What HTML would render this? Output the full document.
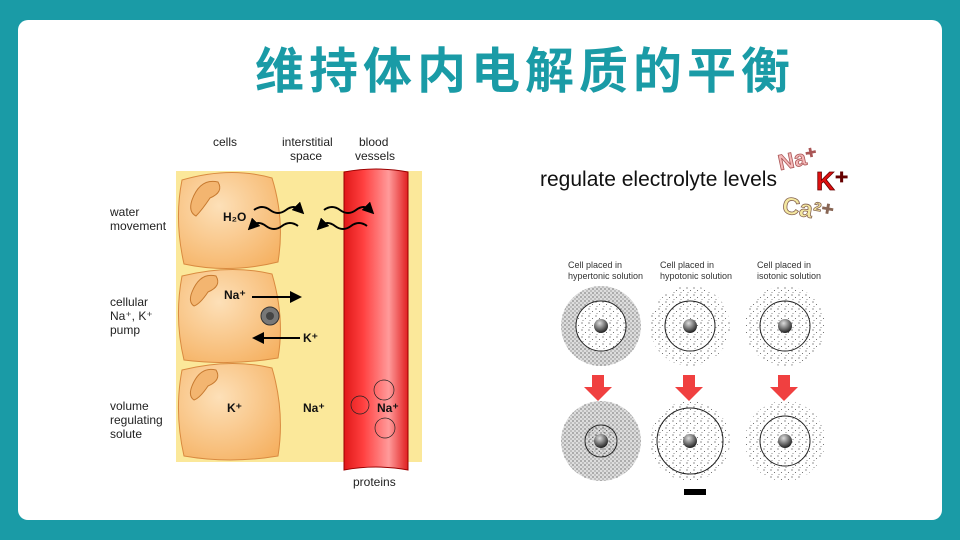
<!DOCTYPE html>
<html><head><meta charset="utf-8"><style>
body{margin:0;width:960px;height:540px;background:#1a9ba6;overflow:hidden;font-family:"Liberation Sans",sans-serif}
.panel{position:absolute;left:18px;top:20px;width:924px;height:500px;background:#fff;border-radius:10px}
</style></head><body>
<div class="panel"></div>
<div style="position:absolute;left:200px;top:42px;width:650px;text-align:center;font-size:49px;color:#1a9ba6;font-family:'Liberation Sans','Noto Sans CJK SC',sans-serif;font-weight:bold;letter-spacing:5px;line-height:60px">维持体内电解质的平衡</div>
<svg width="960" height="540" style="position:absolute;left:0;top:0" font-family="Liberation Sans, sans-serif">
<defs>
<linearGradient id="red" x1="0" x2="1"><stop offset="0" stop-color="#e01818"/><stop offset="0.3" stop-color="#ff4040"/><stop offset="0.7" stop-color="#ff9a9a"/><stop offset="1" stop-color="#e02020"/></linearGradient>
<radialGradient id="cell" cx="0.4" cy="0.35" r="0.8"><stop offset="0" stop-color="#fde0b8"/><stop offset="1" stop-color="#f5b060"/></radialGradient>
<radialGradient id="nuc" cx="0.4" cy="0.3" r="0.7"><stop offset="0" stop-color="#ddd"/><stop offset="1" stop-color="#222"/></radialGradient>
<pattern id="dots" width="7" height="7" patternUnits="userSpaceOnUse"><circle cx="1" cy="1" r="0.6" fill="#444"/><circle cx="4.5" cy="3.5" r="0.55" fill="#555"/><circle cx="2" cy="5.5" r="0.5" fill="#666"/></pattern>
<pattern id="dense" width="4" height="4" patternUnits="userSpaceOnUse"><rect width="4" height="4" fill="#ddd"/><circle cx="1" cy="1" r="0.6" fill="#333"/><circle cx="3" cy="3" r="0.55" fill="#444"/></pattern>
<marker id="ah" markerWidth="6" markerHeight="6" refX="3" refY="3" orient="auto"><path d="M0,0L6,3L0,6z" fill="#000"/></marker>
</defs>
<rect x="176" y="171" width="246" height="291" fill="#fbe89a"/>
<path d="M344,172 Q376,166 408,172 L408,470 Q376,464 344,470Z" fill="url(#red)" stroke="#900" stroke-width="1"/>
<g stroke="#d98a40" fill="url(#cell)">
<path d="M182,180 Q230,166 272,178 Q285,220 278,262 Q230,274 184,264 Q174,220 182,180Z"/>
<path d="M182,276 Q230,264 272,274 Q285,318 278,358 Q230,366 184,360 Q174,318 182,276Z"/>
<path d="M182,370 Q230,358 272,368 Q285,412 278,456 Q230,464 184,456 Q174,412 182,370Z"/>
</g>
<g fill="#f3b570" stroke="#c77a30">
<path d="M192,200 Q200,178 218,182 Q224,192 210,198 Q202,210 196,216 Q188,212 192,200Z"/>
<path d="M192,292 Q200,272 216,276 Q222,286 208,292 Q200,304 194,306 Q188,302 192,292Z"/>
<path d="M192,386 Q200,366 216,370 Q222,380 208,386 Q200,398 194,400 Q188,396 192,386Z"/>
</g>
<g stroke="#000" stroke-width="2" fill="none" marker-end="url(#ah)">
<path d="M254,210 q8,-6 16,0 t16,0 t14,0"/><path d="M324,210 q8,-6 16,0 t16,0 t14,0"/>
<path d="M298,226 q-8,-6 -16,0 t-16,0 t-14,0"/><path d="M367,226 q-8,-6 -16,0 t-16,0 t-14,0"/>
<path d="M252,297 H296"/><path d="M300,338 H258"/>
</g>
<circle cx="270" cy="316" r="9" fill="#777" stroke="#333"/><circle cx="270" cy="316" r="4" fill="#444"/>
<g font-size="12" fill="#222">
<text x="213" y="146">cells</text><text x="282" y="146">interstitial</text><text x="290" y="160">space</text>
<text x="359" y="146">blood</text><text x="355" y="160">vessels</text>
<text x="110" y="216">water</text><text x="110" y="230">movement</text>
<text x="110" y="306">cellular</text><text x="110" y="320">Na⁺, K⁺</text><text x="110" y="334">pump</text>
<text x="110" y="410">volume</text><text x="110" y="424">regulating</text><text x="110" y="438">solute</text>
<text x="353" y="486">proteins</text>
</g>
<g font-size="12" font-weight="bold" fill="#111">
<text x="223" y="221">H₂O</text><text x="224" y="299">Na⁺</text><text x="303" y="342">K⁺</text>
<text x="227" y="412">K⁺</text><text x="303" y="412">Na⁺</text><text x="377" y="412">Na⁺</text>
</g>
<g fill="none" stroke="#222" stroke-width="0.7"><circle cx="360" cy="405" r="9"/><circle cx="384" cy="390" r="10"/><circle cx="385" cy="428" r="10"/></g>
<text x="540" y="186" font-size="21" fill="#111">regulate electrolyte levels</text>
<text x="778" y="168" font-size="22" font-weight="bold" fill="#f4b8b8" stroke="#a55" stroke-width="0.8" transform="rotate(-12 790 160)">Na⁺</text>
<text x="816" y="190" font-size="26" font-weight="bold" fill="#e01010" stroke="#600" stroke-width="0.8">K⁺</text>
<text x="782" y="216" font-size="24" font-weight="bold" fill="#f4e8a0" stroke="#865" stroke-width="0.8" transform="rotate(10 800 210)">Ca²⁺</text>
<g font-size="9" fill="#333">
<text x="568" y="268">Cell placed in</text><text x="568" y="279">hypertonic solution</text>
<text x="660" y="268">Cell placed in</text><text x="660" y="279">hypotonic solution</text>
<text x="757" y="268">Cell placed in</text><text x="757" y="279">isotonic solution</text>
</g>
<circle cx="601" cy="326" r="40" fill="url(#dense)"/><circle cx="601" cy="326" r="25" fill="#fff" stroke="#222"/><circle cx="601" cy="326" r="25" fill="url(#dots)"/>
<circle cx="690" cy="326" r="40" fill="url(#dots)"/><circle cx="690" cy="326" r="25" fill="none" stroke="#222"/>
<circle cx="785" cy="326" r="40" fill="url(#dots)"/><circle cx="785" cy="326" r="25" fill="none" stroke="#222"/>
<circle cx="601" cy="441" r="40" fill="url(#dense)"/><circle cx="601" cy="441" r="16" fill="url(#dots)" stroke="#222"/>
<circle cx="690" cy="441" r="40" fill="url(#dots)"/><circle cx="690" cy="441" r="33" fill="none" stroke="#222"/>
<circle cx="785" cy="441" r="40" fill="url(#dots)"/><circle cx="785" cy="441" r="25" fill="none" stroke="#222"/>
<g fill="url(#nuc)"><circle cx="601" cy="326" r="7"/><circle cx="690" cy="326" r="7"/><circle cx="785" cy="326" r="7"/><circle cx="601" cy="441" r="7"/><circle cx="690" cy="441" r="7"/><circle cx="785" cy="441" r="7"/></g>
<g fill="#f04040"><path d="M592,375h12v12h8l-14,14l-14,-14h8z"/><path d="M683,375h12v12h8l-14,14l-14,-14h8z"/><path d="M778,375h12v12h8l-14,14l-14,-14h8z"/></g>
<rect x="684" y="489" width="22" height="6" fill="#000"/>
</svg>
</body></html>
